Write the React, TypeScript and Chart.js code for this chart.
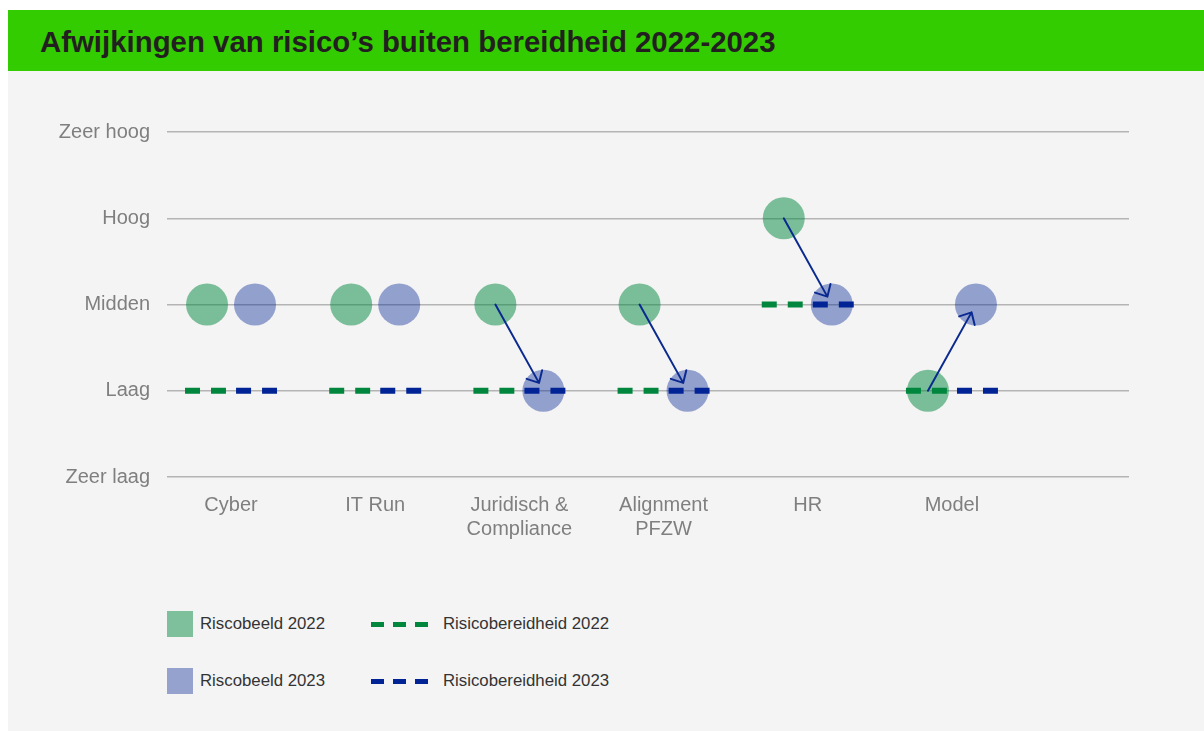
import React, { useEffect, useRef } from "react";
import { Chart, registerables } from "chart.js";

Chart.register(...registerables);

// ---------- data ----------
const categories: (string | string[])[] = [
  "Cyber",
  "IT Run",
  ["Juridisch &", "Compliance"],
  ["Alignment", "PFZW"],
  "HR",
  "Model",
];
const levelLabels = ["Zeer laag", "Laag", "Midden", "Hoog", "Zeer hoog"];
const riskProfile2022 = [3, 3, 3, 3, 4, 2];
const riskProfile2023 = [3, 3, 2, 2, 3, 3];
const riskAppetite2022 = [2, 2, 2, 2, 3, 2];
const riskAppetite2023 = [2, 2, 2, 2, 3, 2];
const legendLabels = {
  profile2022: "Riscobeeld 2022",
  profile2023: "Riscobeeld 2023",
  appetite2022: "Risicobereidheid 2022",
  appetite2023: "Risicobereidheid 2023",
};
const titleText = "Afwijkingen van risico’s buiten bereidheid 2022-2023";

// ---------- styles ----------
const GREEN_FILL = "rgba(0,135,62,0.5)";
const BLUE_FILL = "rgba(0,35,150,0.4)";
const GREEN_LINE = "#00873d";
const BLUE_LINE = "#002395";
const ARROW_COLOR = "#0a2a8f";
const CIRCLE_OFFSET = 0.1664;
const LINE_OUTER = 0.319;
const LINE_INNER = 0.035;
const FONT = "'Liberation Sans', Arial, sans-serif";

const arrowPlugin = {
  id: "arrows",
  afterDatasetsDraw(chart: any) {
    const { ctx } = chart;
    const xs = chart.scales.x;
    const ys = chart.scales.y;
    ctx.save();
    ctx.strokeStyle = ARROW_COLOR;
    ctx.lineWidth = 2;
    ctx.lineCap = "round";
    ctx.lineJoin = "round";
    categories.forEach((_, i) => {
      if (riskProfile2022[i] === riskProfile2023[i]) return;
      const x0 = xs.getPixelForValue(i - CIRCLE_OFFSET);
      const y0 = ys.getPixelForValue(riskProfile2022[i]);
      const x1 = xs.getPixelForValue(i + CIRCLE_OFFSET);
      const y1 = ys.getPixelForValue(riskProfile2023[i]);
      const ang = Math.atan2(y1 - y0, x1 - x0);
      const len = Math.hypot(x1 - x0, y1 - y0) - 9;
      const tx = x0 + Math.cos(ang) * len;
      const ty = y0 + Math.sin(ang) * len;
      ctx.beginPath();
      ctx.moveTo(x0, y0);
      ctx.lineTo(tx, ty);
      const back = ang + Math.PI;
      const arm = 13;
      const spread = 0.75;
      ctx.moveTo(tx + Math.cos(back - spread) * arm, ty + Math.sin(back - spread) * arm);
      ctx.lineTo(tx, ty);
      ctx.lineTo(tx + Math.cos(back + spread) * arm, ty + Math.sin(back + spread) * arm);
      ctx.stroke();
    });
    ctx.restore();
  },
};

function App() {
  const canvasRef = useRef<HTMLCanvasElement | null>(null);

  useEffect(() => {
    if (!canvasRef.current) return;
    const datasets: any[] = [];
    datasets.push({
      label: legendLabels.profile2022,
      data: categories.map((_, i) => ({ x: i - CIRCLE_OFFSET, y: riskProfile2022[i] })),
      showLine: false,
      pointRadius: 21,
      pointHoverRadius: 21,
      pointBackgroundColor: GREEN_FILL,
      pointBorderWidth: 0,
      backgroundColor: GREEN_FILL,
      borderColor: "transparent",
      order: 3,
    });
    datasets.push({
      label: legendLabels.profile2023,
      data: categories.map((_, i) => ({ x: i + CIRCLE_OFFSET, y: riskProfile2023[i] })),
      showLine: false,
      pointRadius: 21,
      pointHoverRadius: 21,
      pointBackgroundColor: BLUE_FILL,
      pointBorderWidth: 0,
      backgroundColor: BLUE_FILL,
      borderColor: "transparent",
      order: 3,
    });
    categories.forEach((_, i) => {
      datasets.push({
        label: legendLabels.appetite2022,
        data: [
          { x: i - LINE_OUTER, y: riskAppetite2022[i] },
          { x: i - LINE_INNER, y: riskAppetite2022[i] },
        ],
        borderColor: GREEN_LINE,
        borderWidth: 6,
        borderDash: [15, 11],
        borderCapStyle: "butt",
        pointRadius: 0,
        fill: false,
        tension: 0,
        order: 1,
      });
      datasets.push({
        label: legendLabels.appetite2023,
        data: [
          { x: i + LINE_INNER, y: riskAppetite2023[i] },
          { x: i + LINE_OUTER, y: riskAppetite2023[i] },
        ],
        borderColor: BLUE_LINE,
        borderWidth: 6,
        borderDash: [15, 11],
        borderCapStyle: "butt",
        pointRadius: 0,
        fill: false,
        tension: 0,
        order: 1,
      });
    });

    const chart = new Chart(canvasRef.current, {
      type: "line",
      data: { datasets },
      plugins: [arrowPlugin],
      options: {
        animation: false,
        responsive: false,
        events: [],
        layout: { padding: { left: 0, right: 75, top: 61, bottom: 0 } },
        plugins: {
          legend: { display: false },
          tooltip: { enabled: false },
          title: { display: false },
        },
        scales: {
          x: {
            type: "linear",
            min: -0.444,
            max: 6.228,
            grid: { display: false, drawTicks: false },
            border: { display: false },
            afterBuildTicks: (axis: any) => {
              axis.ticks = categories.map((_, i) => ({ value: i }));
            },
            afterFit: (axis: any) => {
              axis.height = 74;
            },
            ticks: {
              autoSkip: false,
              maxRotation: 0,
              padding: 16,
              color: "#7f7f7f",
              font: { family: FONT, size: 20 },
              callback: (v: any) => categories[Math.round(Number(v))] as any,
            },
          },
          y: {
            type: "linear",
            min: 1,
            max: 5,
            grid: { color: "#b4b4b4", lineWidth: 1.5, drawTicks: false },
            border: { display: false },
            afterFit: (axis: any) => {
              axis.width = 159;
            },
            ticks: {
              stepSize: 1,
              padding: 17,
              color: "#7f7f7f",
              font: { family: FONT, size: 20 },
              callback: (v: any) => levelLabels[Math.round(Number(v)) - 1],
            },
          },
        },
      },
    });
    return () => chart.destroy();
  }, []);

  const legendText: React.CSSProperties = {
    fontFamily: FONT,
    fontSize: "16.8px",
    color: "#333333",
    whiteSpace: "nowrap",
  };
  const dash = (c: string): React.CSSProperties => ({
    width: 58,
    height: 5,
    background: `repeating-linear-gradient(to right, ${c} 0px, ${c} 13px, transparent 13px, transparent 22px)`,
  });
  const square = (c: string): React.CSSProperties => ({ width: 26, height: 26, background: c });

  const row = (top: number, sq: string, sqLabel: string, ln: string, lnLabel: string) => (
    <>
      <div style={{ position: "absolute", left: 159, top, height: 26, display: "flex", alignItems: "center" }}>
        <div style={square(sq)} />
        <span style={{ ...legendText, marginLeft: 7 }}>{sqLabel}</span>
      </div>
      <div style={{ position: "absolute", left: 363, top, height: 26, display: "flex", alignItems: "center" }}>
        <div style={dash(ln)} />
        <span style={{ ...legendText, marginLeft: 14 }}>{lnLabel}</span>
      </div>
    </>
  );

  return (
    <div
      style={{
        position: "absolute",
        left: 8,
        top: 10,
        width: 1196,
        height: 721,
        background: "#f4f4f4",
        overflow: "hidden",
      }}
    >
      <div style={{ position: "absolute", left: 0, top: 0, width: 1196, height: 61, background: "#33cc00" }}>
        <div
          style={{
            position: "absolute",
            left: 32,
            top: 16,
            lineHeight: "32px",
            fontFamily: FONT,
            fontWeight: 700,
            fontSize: "29.4px",
            color: "#231f20",
            whiteSpace: "nowrap",
          }}
        >
          {titleText}
        </div>
      </div>
      <canvas
        ref={canvasRef}
        width={1196}
        height={480}
        style={{ position: "absolute", left: 0, top: 61, width: 1196, height: 480 }}
      />
      {row(601, "rgb(126,192,155)", legendLabels.profile2022, GREEN_LINE, legendLabels.appetite2022)}
      {row(658, "rgb(150,162,206)", legendLabels.profile2023, BLUE_LINE, legendLabels.appetite2023)}
    </div>
  );
}

export default App;
